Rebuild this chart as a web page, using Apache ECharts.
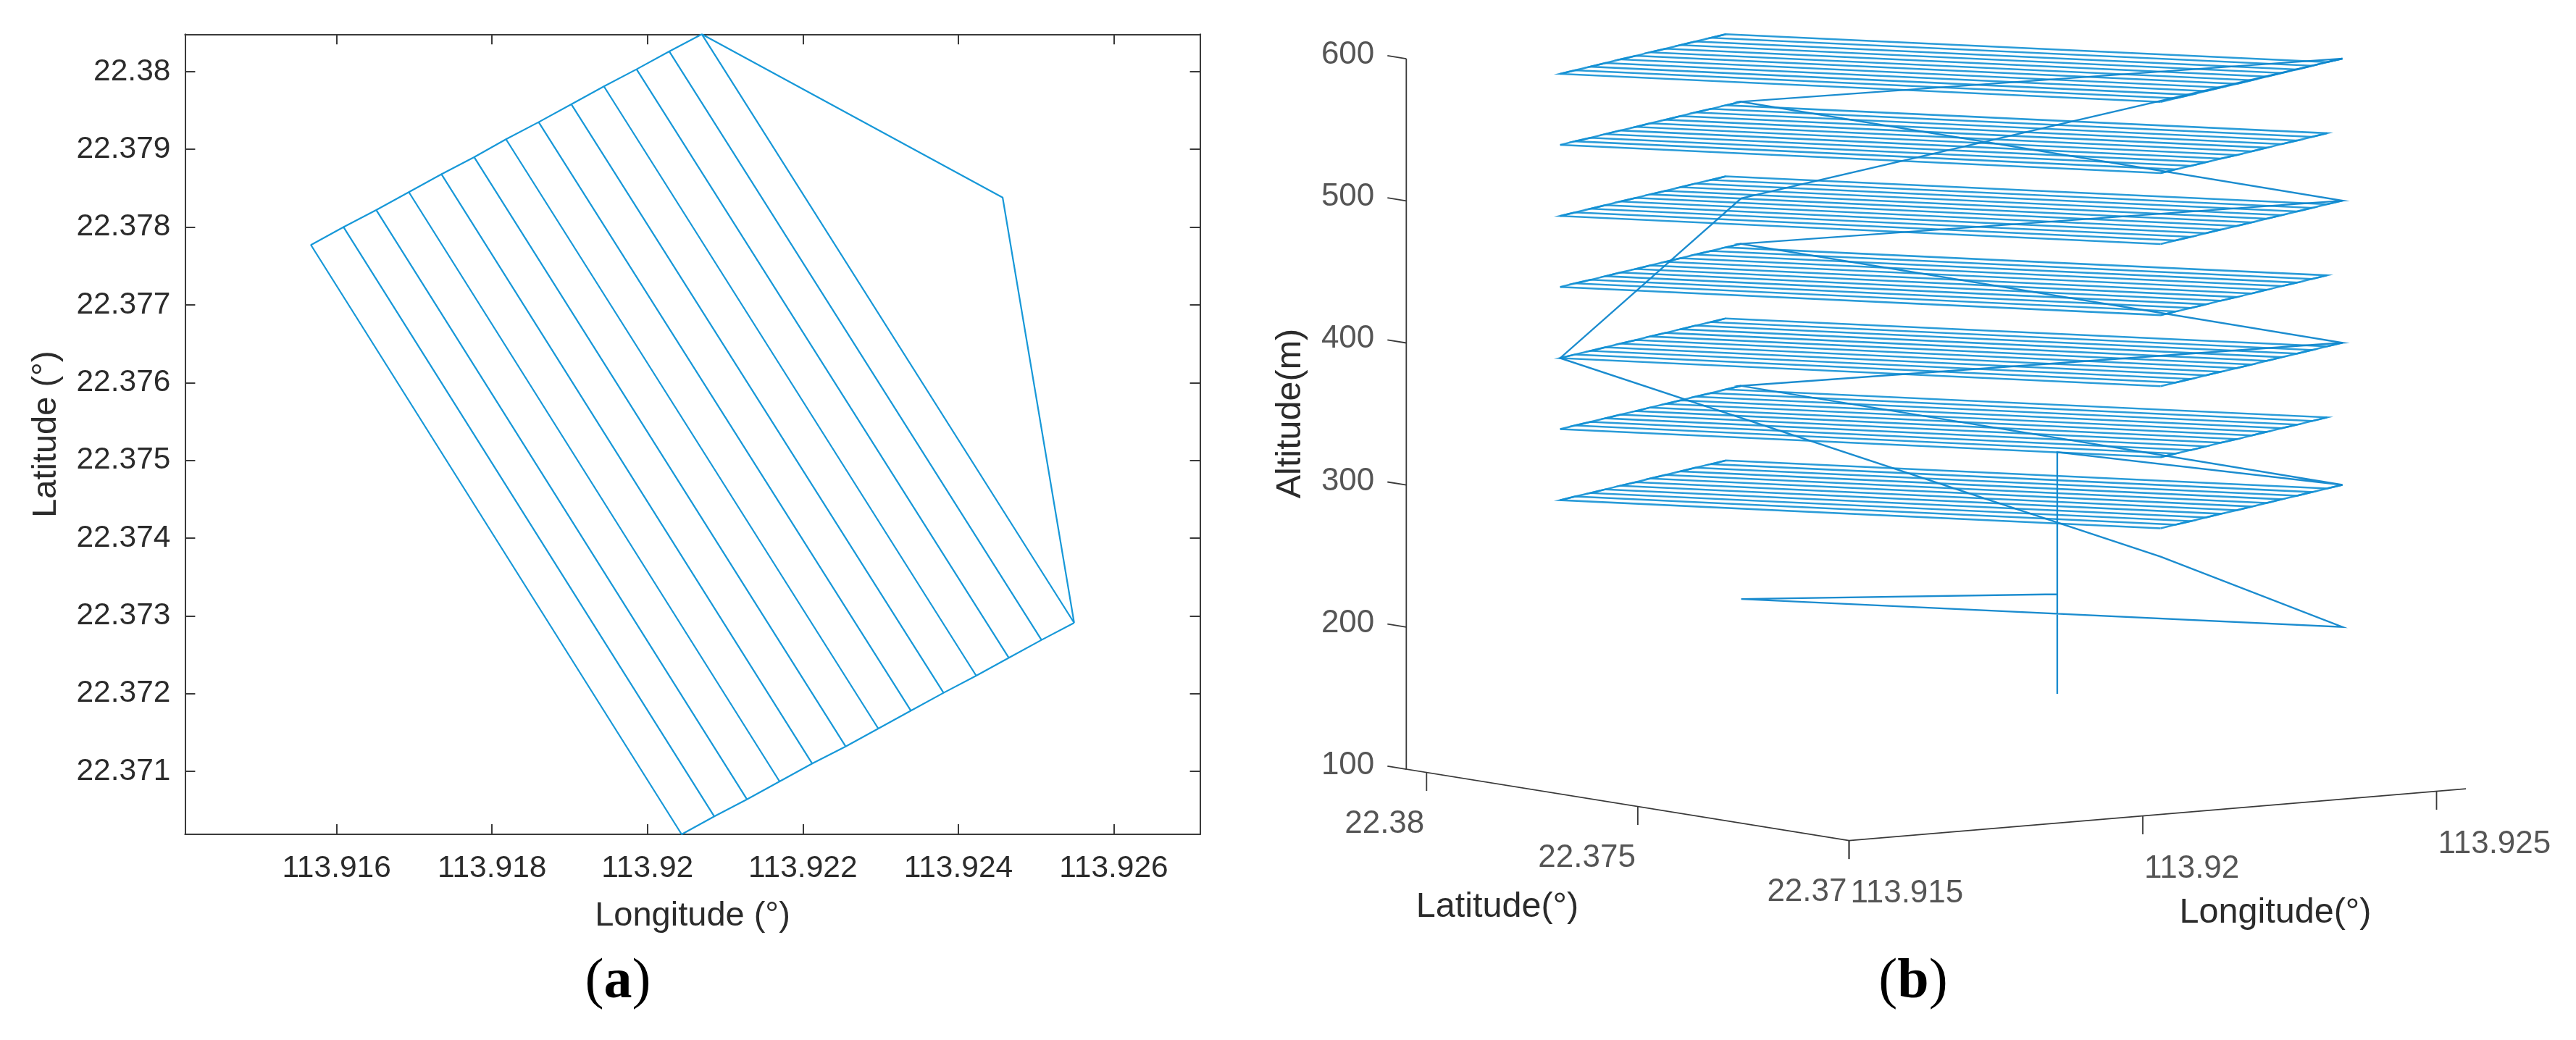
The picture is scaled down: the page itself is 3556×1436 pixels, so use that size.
<!DOCTYPE html>
<html><head><meta charset="utf-8">
<style>html,body{margin:0;padding:0;background:#fff}#c{width:3556px;height:1436px}</style>
<script src="https://cdn.jsdelivr.net/npm/echarts@6/dist/echarts.min.js"></script>
</head><body><div id="c"></div>
<script>
// ---- data ----
const topEdgeLon = [113.91567,113.91609,113.91651,113.91693,113.91735,113.91777,113.91818,113.91860,113.91902,113.91944,113.91986,113.92028,113.92070];
const topEdgeLat = [22.37777,22.37800,22.37822,22.37845,22.37868,22.37890,22.37913,22.37935,22.37958,22.37981,22.38003,22.38026,22.38048];
const bottomEdgeLon = [113.92044,113.92086,113.92128,113.92170,113.92212,113.92255,113.92297,113.92339,113.92381,113.92423,113.92465,113.92507,113.92549];
const bottomEdgeLat = [22.37019,22.37042,22.37064,22.37087,22.37110,22.37132,22.37155,22.37178,22.37201,22.37223,22.37246,22.37269,22.37291];
const homeLon = 113.92457, homeLat = 22.37838;
const evenLayers = [300,400,500,600];
const oddLayers = [350,450,550];
const climbAlt = [130,300];
const returnAlt = {farCorner:482, west:400, south:280, last:200};
const lonTicks2D = [113.916,113.918,113.92,113.922,113.924,113.926];
const latTicks2D = [22.38,22.379,22.378,22.377,22.376,22.375,22.374,22.373,22.372,22.371];
const lonTicks3D = [113.915,113.92,113.925];
const latTicks3D = [22.38,22.375,22.37];
const altTicks3D = [100,200,300,400,500,600];
const lonRange2D = [113.91405,113.92711], latRange2D = [22.37019,22.38048];
const lonRange3D = [113.915,113.9255], latRange3D = [22.37,22.38048], altRange3D = [100,600];

// ---- styles ----
const FONT = '"Liberation Sans", Arial, sans-serif';
const TXT = '#2b2b2b', AX = '#3a3a3a', BLUE = '#1798d8';
const W = 3556, H = 1436;

// orthographic view of the 3D axes onto the third (hidden) coordinate system
function proj(lon, lat, alt){
  const a = lon - lonRange3D[0], b = lat - latRange3D[0], c = alt - altRange3D[0];
  return [2552.5 + a*81100 - b*58320, 1160.6 - a*6800 - b*9400 - c*1.962];
}
const T = k => [topEdgeLon[k], topEdgeLat[k]];
const B = k => [bottomEdgeLon[k], bottomEdgeLat[k]];
const H0 = [homeLon, homeLat];

// one sweep of a layer in lon/lat, from corner 12 to corner 0
function sweep(startBottom){
  const pts = [startBottom ? B(12) : T(12)];
  let bottomFirst = startBottom;
  for (let k = 11; k >= 0; k--){
    pts.push(bottomFirst ? B(k) : T(k), bottomFirst ? T(k) : B(k));
    bottomFirst = !bottomFirst;
  }
  return pts;
}
// edges that close the strips of a layer
function edges(startBottom){
  const top = [], bottom = [];
  for (let k = startBottom ? 11 : 12; k >= 0; k--) top.push(T(k));
  for (let k = startBottom ? 12 : 11; k >= 0; k--) bottom.push(B(k));
  return [top, bottom];
}
// 2D route: both sweep patterns flown over the same ground, then the ferry legs
const route2D = sweep(true).concat(sweep(false).reverse(), [H0, B(12), T(12)]);

const at = (p, z) => proj(p[0], p[1], z);
const zigzag = [at(H0,climbAlt[0]), at(H0,climbAlt[1]), at(B(12),300), at(T(12),350), at(B(12),400), at(T(12),450), at(B(12),500), at(T(12),550), at(B(12),600),
  at(T(12),returnAlt.farCorner), at(T(0),returnAlt.west), at(B(0),returnAlt.south), at(B(12),returnAlt.last), at(T(12),returnAlt.last), at(H0,returnAlt.last)];

const hidden = {show:false};
const lineSeries = (data, color, width, opacity) => ({type:'line', xAxisIndex:2, yAxisIndex:2, data, showSymbol:false, symbol:'none', silent:true,
  animation:false, clip:false, lineStyle:{color, width, join:'miter', opacity: opacity===undefined?1:opacity}, z:2});
const series = [];
series.push({type:'line', xAxisIndex:0, yAxisIndex:0, data:route2D, showSymbol:false, symbol:'none', animation:false, silent:true, lineStyle:{color:BLUE, width:2.2}, z:2});
function addLayer(z, startBottom){
  series.push(lineSeries(sweep(startBottom).map(p=>at(p,z)), '#1290d4', 2.5, 0.9));
  edges(startBottom).forEach(e => series.push(lineSeries(e.map(p=>at(p,z)), '#1290d4', 2.5, 0.9)));
}
evenLayers.forEach(z => addLayer(z,true));
oddLayers.forEach(z => addLayer(z,false));
series.push(lineSeries(zigzag, '#0f86cc', 2.4, 0.95));

// 3D axes
const lonMin = lonRange3D[0], lonMax = lonRange3D[1], latMin = latRange3D[0], latMax = latRange3D[1], altMin = altRange3D[0], altMax = altRange3D[1];
series.push(lineSeries([proj(lonMin,latMax,altMax), proj(lonMin,latMax,altMin), proj(lonMin,latMin,altMin), proj(lonMax,latMin,altMin)], AX, 1.8));
const TICK_LAT = 0.000446, TICK_ALT = 13;
altTicks3D.forEach(z => series.push(lineSeries([proj(lonMin,latMax,z), proj(lonMin,latMax+TICK_LAT,z)], AX, 1.8)));
latTicks3D.forEach(l => series.push(lineSeries([proj(lonMin,l,altMin), proj(lonMin,l,altMin-TICK_ALT)], AX, 1.8)));
lonTicks3D.forEach(l => series.push(lineSeries([proj(l,latMin,altMin), proj(l,latMin,altMin-TICK_ALT)], AX, 1.8)));

const labelSeries = (data, align, offset) => ({type:'scatter', xAxisIndex:2, yAxisIndex:2, symbolSize:0, silent:true, animation:false, z:3,
  data, label:{show:true, position:'inside', align, verticalAlign:'middle', offset, formatter:p=>p.name, color:TXT, fontFamily:FONT, fontSize:44}});
series.push(labelSeries(altTicks3D.map(z => ({name:String(z), value:proj(lonMin,latMax+TICK_LAT,z)})), 'right', [-18,-1]));
series.push(labelSeries(latTicks3D.map(l => ({name:String(l), value:proj(lonMin,l,altMin-TICK_ALT)})), 'right', [-3,46]));
series.push(labelSeries(lonTicks3D.map(l => ({name:String(l), value:proj(l,latMin,altMin-TICK_ALT)})), 'left', [2,48]));

const rect2D = {left:255.4, top:47.3, width:1401.2, height:1104.7};
const axBase = {type:'value', splitLine:hidden, axisLine:{show:true,onZero:false,lineStyle:{color:AX,width:2}}, 
  axisTick:{show:true,inside:true,length:14,lineStyle:{color:AX,width:2}}};
const nameStyle = {color:TXT, fontFamily:FONT, fontSize:47};
const lblStyle = {color:TXT, fontFamily:FONT, fontSize:42.5};

function caption(letter, x, y){
  return {type:'text', x, y, silent:true, style:{text:'{r|(}{b|'+letter+'}{r|)}', align:'center', verticalAlign:'middle',
    rich:{r:{font:'78px "Liberation Serif", serif', fill:'#000'}, b:{font:'bold 78px "Liberation Serif", serif', fill:'#000'}}}};
}
const gText = (text, x, y, rot) => ({type:'text', x, y, rotation:rot||0, silent:true,
  style:{text, font:'48.5px "Liberation Sans", Arial, sans-serif', fill:TXT, align:'center', verticalAlign:'middle'}});

const option = {
  backgroundColor:'#fff', animation:false,
  grid:[rect2D, rect2D, {left:0, top:0, width:W, height:H}],
  xAxis:[
    Object.assign({}, axBase, {gridIndex:0, position:'bottom', min:lonRange2D[0], max:lonRange2D[1],
      axisTick:Object.assign({}, axBase.axisTick, {customValues:lonTicks2D}),
      axisLabel:{customValues:lonTicks2D, formatter:v=>String(v), margin:26, ...lblStyle},
      name:'Longitude (°)', nameLocation:'middle', nameGap:90, nameTextStyle:nameStyle}),
    Object.assign({}, axBase, {gridIndex:1, position:'top', min:lonRange2D[0], max:lonRange2D[1],
      axisTick:Object.assign({}, axBase.axisTick, {customValues:lonTicks2D}), axisLabel:hidden}),
    {type:'value', gridIndex:2, min:0, max:W, show:false}
  ],
  yAxis:[
    Object.assign({}, axBase, {gridIndex:0, position:'left', min:latRange2D[0], max:latRange2D[1],
      axisTick:Object.assign({}, axBase.axisTick, {customValues:latTicks2D}),
      axisLabel:{customValues:latTicks2D, formatter:v=>String(v), margin:20, ...lblStyle},
      name:'Latitude (°)', nameLocation:'middle', nameGap:168, nameTextStyle:nameStyle}),
    Object.assign({}, axBase, {gridIndex:1, position:'right', min:latRange2D[0], max:latRange2D[1],
      axisTick:Object.assign({}, axBase.axisTick, {customValues:latTicks2D}), axisLabel:hidden}),
    {type:'value', gridIndex:2, min:0, max:H, inverse:true, show:false}
  ],
  series,
  graphic:[
    gText('Altitude(m)', 1782, 571, Math.PI/2),
    gText('Latitude(°)', 2067, 1253),
    gText('Longitude(°)', 3141, 1261),
    caption('a', 853, 1357),
    caption('b', 2641, 1357)
  ]
};
const chart = echarts.init(document.getElementById('c'), null, {renderer:'canvas', width:W, height:H});
chart.setOption(option);
</script></body></html>
